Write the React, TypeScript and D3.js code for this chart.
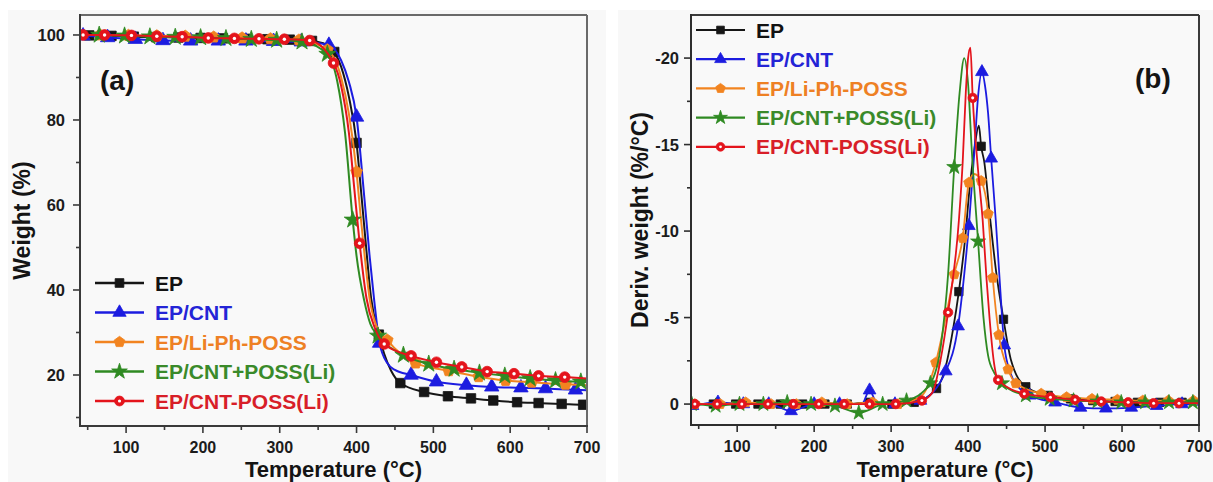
import React from 'react';
import * as d3 from 'd3';

type Pt = [number, number];

const SERIES = ['EP', 'EP/CNT', 'EP/Li-Ph-POSS', 'EP/CNT+POSS(Li)', 'EP/CNT-POSS(Li)'];
const COLORS = ['#161616', '#1c1ce0', '#f28420', '#2f8a22', '#e4141c'];
const TEXT_COLORS = ['#121212', '#2424d6', '#ee8024', '#3a8a2a', '#d81e28'];
const SHAPES = ['square', 'triangle', 'pentagon', 'star', 'circle'];

const X_TICKS = [100, 200, 300, 400, 500, 600, 700];
const X_MINOR = [50, 150, 250, 350, 450, 550, 650];
const TGA_Y_TICKS = [20, 40, 60, 80, 100];
const TGA_Y_MINOR = [10, 30, 50, 70, 90];
const DTG_Y_TICKS = [0, -5, -10, -15, -20];
const DTG_Y_MINOR = [-2.5, -7.5, -12.5, -17.5];

// ---------- TGA (weight %) : marker points + extra line points ----------
const tgaEP: Pt[] = [[52, 99.9], [81, 99.8], [110, 99.6], [139, 99.5], [168, 99.4], [197, 99.3], [226, 99.2], [255, 99.1], [284, 99.0], [313, 98.9], [342, 98.6], [371, 96.0], [400, 74.6], [429, 29.5], [457, 18.1], [488, 16.0], [519, 15.0], [549, 14.5], [578, 14.0], [609, 13.6], [637, 13.4], [667, 13.2], [695, 13.0]];
const tgaEPFine: Pt[] = [[40, 100], [360, 97.8], [380, 92.5], [390, 85.5], [406, 63], [412, 51], [419, 38], [436, 25], [445, 21], [700, 13.0]];

const tgaCNT: Pt[] = [[44, 99.8], [76, 99.4], [112, 99.0], [148, 98.7], [184, 98.6], [220, 98.6], [256, 98.6], [292, 98.5], [328, 98.4], [364, 97.6], [400, 80.7], [430, 27.5], [471, 20.0], [504, 18.4], [543, 17.6], [576, 17.2], [614, 17.0], [646, 16.8], [685, 16.5]];
const tgaCNTFine: Pt[] = [[40, 99.8], [380, 94], [390, 89], [410, 62], [417, 48], [423, 37.5], [440, 22.8], [450, 21.2], [700, 16.4]];

const tgaLiPOSS: Pt[] = [[66, 100], [103, 99.9], [140, 99.8], [177, 99.7], [214, 99.5], [251, 99.3], [288, 99.1], [325, 98.8], [362, 96.5], [400, 67.8], [440, 28.2], [477, 22.8], [520, 21.0], [559, 19.6], [594, 18.7], [628, 18.3], [672, 17.8]];
const tgaLiPOSSFine: Pt[] = [[40, 100], [380, 90], [390, 81.5], [405, 58], [410, 49], [417, 38], [425, 32], [700, 17.6]];

const tgaCNTplus: Pt[] = [[65, 100], [98, 99.8], [131, 99.6], [164, 99.5], [197, 99.4], [230, 99.2], [263, 99.0], [296, 98.8], [329, 98.4], [362, 95.5], [395, 56.5], [428, 29.2], [461, 24.7], [494, 22.6], [527, 21.4], [560, 20.5], [593, 19.8], [626, 19.2], [659, 18.7], [692, 18.4]];
const tgaCNTplusFine: Pt[] = [[40, 100], [375, 89], [385, 77], [400, 48], [410, 37.5], [418, 32], [700, 18.3]];

const tgaCNTminus: Pt[] = [[44, 100], [72, 100], [107, 99.9], [140, 99.7], [173, 99.6], [207, 99.3], [241, 99.2], [273, 99.1], [306, 99.0], [339, 98.7], [370, 93.4], [404, 51], [436, 27.3], [471, 24.5], [504, 23.0], [537, 21.9], [570, 20.8], [605, 20.3], [637, 19.8], [671, 19.5]];
const tgaCNTminusFine: Pt[] = [[40, 100], [380, 88], [390, 77], [397, 64], [413, 38], [424, 31], [700, 19.2]];

// ---------- DTG (deriv. weight %/°C) ----------
const dtgEP: Pt[] = [[40, 0], [69, 0], [98, 0], [127, 0], [156, 0], [185, 0], [214, 0], [243, 0], [272, -0.1], [301, 0], [330, -0.1], [359, -0.9], [388, -6.5], [417, -14.9], [446, -4.9], [475, -1.0], [504, -0.5], [533, -0.3], [562, -0.2], [591, -0.15], [620, -0.1], [649, -0.1], [678, -0.1]];
const dtgEPFine: Pt[] = [[370, -2.0], [380, -4.2], [396, -9.5], [402, -12.5], [408, -14.7], [414, -16.1], [421, -14.0], [428, -11.0], [436, -7.8], [456, -2.5], [700, -0.1]];

const dtgCNT: Pt[] = [[42, 0.1], [75, -0.1], [108, 0], [141, 0], [170, 0.4], [200, 0], [233, 0], [272, -0.8], [305, 0], [338, -0.2], [371, -1.9], [387, -4.5], [401, -10.3], [418, -19.2], [430, -14.2], [447, -3.4], [480, -0.5], [513, -0.1], [546, 0.2], [579, 0.25], [612, 0.2], [645, 0.1], [678, 0.0]];
const dtgCNTFine: Pt[] = [[262, 0], [282, 0], [395, -7.5], [408, -14.5], [413, -17.8], [422, -18.4], [426, -16.8], [436, -10.6], [442, -6.5], [455, -1.8], [465, -1.0], [700, 0.05]];

const dtgLiPOSS: Pt[] = [[45, 0], [78, 0], [111, -0.1], [144, 0], [177, 0], [210, -0.1], [243, 0], [276, -0.1], [309, 0], [358, -2.4], [382, -7.5], [393, -9.6], [401, -12.8], [417, -12.9], [426, -11.0], [432, -7.3], [440, -4.0], [452, -2.0], [462, -1.2], [495, -0.6], [528, -0.4], [561, -0.3], [594, -0.25], [627, -0.2], [660, -0.2], [693, -0.2]];
const dtgLiPOSSFine: Pt[] = [[40, 0], [340, -0.5], [370, -4.8], [408, -13.3], [700, -0.2]];

const dtgCNTplus: Pt[] = [[41, 0], [72, 0.1], [103, 0], [134, 0], [165, -0.1], [196, 0], [227, 0.1], [258, 0.5], [289, 0], [320, -0.2], [351, -1.2], [382, -13.7], [413, -9.4], [444, -1.2], [475, -0.5], [506, -0.3], [537, -0.2], [568, -0.15], [599, -0.1], [630, -0.1], [661, -0.1], [692, -0.1]];
const dtgCNTplusFine: Pt[] = [[40, 0], [365, -3.5], [374, -7.5], [389, -18.0], [395, -20.0], [400, -18.5], [405, -14.5], [420, -5.0], [426, -2.8], [434, -1.8], [700, -0.1]];

const dtgCNTminus: Pt[] = [[45, 0], [74, 0], [106, 0], [140, 0], [173, 0], [206, 0], [239, 0], [272, 0], [306, 0], [340, -0.2], [374, -5.3], [406, -17.7], [439, -1.4], [473, -0.6], [507, -0.4], [539, -0.25], [573, -0.15], [608, -0.1], [641, -0.05], [674, -0.05]];
const dtgCNTminusFine: Pt[] = [[40, 0], [354, -0.7], [364, -2.5], [388, -10.6], [393, -14.0], [397, -18.0], [400, -20.0], [403, -20.6], [413, -13.5], [419, -10.6], [424, -7.2], [428, -4.9], [433, -2.6], [700, -0.05]];

const TGA = [
  { main: tgaEP, fine: tgaEPFine },
  { main: tgaCNT, fine: tgaCNTFine },
  { main: tgaLiPOSS, fine: tgaLiPOSSFine },
  { main: tgaCNTplus, fine: tgaCNTplusFine },
  { main: tgaCNTminus, fine: tgaCNTminusFine },
];
const DTG = [
  { main: dtgEP, fine: dtgEPFine },
  { main: dtgCNT, fine: dtgCNTFine },
  { main: dtgLiPOSS, fine: dtgLiPOSSFine },
  { main: dtgCNTplus, fine: dtgCNTplusFine },
  { main: dtgCNTminus, fine: dtgCNTminusFine },
];

const FONT = '"Liberation Sans", Arial, Helvetica, sans-serif';

function markerPath(shape: string, size: number): string {
  if (shape === 'pentagon') {
    const r = Math.sqrt(size / 2.38);
    const pts = d3.range(5).map((i) => {
      const a = -Math.PI / 2 + (i * 2 * Math.PI) / 5;
      return [r * Math.cos(a), r * Math.sin(a)];
    });
    return 'M' + pts.map((p) => p.join(',')).join('L') + 'Z';
  }
  const types: Record<string, d3.SymbolType> = {
    square: d3.symbolSquare,
    triangle: d3.symbolTriangle,
    star: d3.symbolStar,
    circle: d3.symbolCircle,
  };
  return d3.symbol(types[shape], size)() as string;
}

function Marker({ shape, color, x, y, size }: { shape: string; color: string; x: number; y: number; size: number }) {
  return (
    <g transform={`translate(${x},${y})`}>
      <path d={markerPath(shape, size)} fill={color} stroke={color} strokeWidth={0.8} />
      {shape === 'circle' && <circle r={Math.sqrt(size / Math.PI) * 0.32} fill="#fff" />}
    </g>
  );
}

interface PanelProps {
  data: { main: Pt[]; fine: Pt[] }[];
  xRange: [number, number];
  yRange: [number, number];
  yDomain: [number, number];
  yTicks: number[];
  yMinor: number[];
  yTitle: string;
  yTitleX: number;
  yLabelX: number;
  label: string;
  labelX: number;
  labelY: number;
  legendX: number;
  legendY: number;
  legendStep: number;
  markerSize: number;
  lineWidth: number;
  frameLeft: string;
  frameTop: string;
}

function Panel(p: PanelProps) {
  const x = d3.scaleLinear().domain([40, 700]).range(p.xRange);
  const y = d3.scaleLinear().domain(p.yDomain).range(p.yRange);
  const [x0, x1] = p.xRange;
  const [y1, y0] = p.yRange; // y1 bottom, y0 top
  const line = d3
    .line<Pt>()
    .x((d) => x(d[0]))
    .y((d) => y(d[1]))
    .curve(d3.curveMonotoneX);
  const fmt = (v: number) => (v === 0 ? '0' : String(v));
  return (
    <g fontFamily={FONT} fontWeight="bold">
      <rect x={x0} y={y0} width={x1 - x0} height={y1 - y0} fill="#f9f9f9" />
      <defs>
        <clipPath id={`clip-${p.label}`}>
          <rect x={x0} y={y0 - 2} width={x1 - x0 + 1} height={y1 - y0 + 2} />
        </clipPath>
      </defs>
      <g clipPath={`url(#clip-${p.label})`}>
        {p.data.map((s, i) => {
          const all = [...s.main, ...s.fine].sort((a, b) => a[0] - b[0]);
          return (
            <g key={i}>
              <path d={line(all) as string} fill="none" stroke={COLORS[i]} strokeWidth={p.lineWidth} />
              {s.main.map((d, j) => (
                <Marker key={j} shape={SHAPES[i]} color={COLORS[i]} x={x(d[0])} y={y(d[1])} size={p.markerSize} />
              ))}
            </g>
          );
        })}
      </g>
      {/* frame */}
      <line x1={x0} y1={y0} x2={x1} y2={y0} stroke={p.frameTop} strokeWidth={2} />
      <line x1={x1} y1={y0} x2={x1} y2={y1} stroke={p.frameTop} strokeWidth={2} />
      <line x1={x0} y1={y0 - 1} x2={x0} y2={y1 + 1} stroke={p.frameLeft} strokeWidth={2} />
      <line x1={x0 - 1} y1={y1} x2={x1 + 1} y2={y1} stroke={p.frameLeft} strokeWidth={2} />
      {/* x ticks */}
      {X_TICKS.map((t) => (
        <g key={t}>
          <line x1={x(t)} x2={x(t)} y1={y1} y2={y1 + 7} stroke={p.frameLeft} strokeWidth={1.6} />
          <text x={x(t)} y={y1 + 27} textAnchor="middle" fontSize={16} fill="#1c1c1c">
            {t}
          </text>
        </g>
      ))}
      {X_MINOR.map((t) => (
        <line key={t} x1={x(t)} x2={x(t)} y1={y1} y2={y1 + 4} stroke={p.frameLeft} strokeWidth={1.6} />
      ))}
      {/* y ticks */}
      {p.yTicks.map((t) => (
        <g key={t}>
          <line x1={x0 - 7} x2={x0} y1={y(t)} y2={y(t)} stroke={p.frameLeft} strokeWidth={1.6} />
          <text x={p.yLabelX} y={y(t) + 6} textAnchor="end" fontSize={16.5} fill="#1c1c1c">
            {fmt(t)}
          </text>
        </g>
      ))}
      {p.yMinor.map((t) => (
        <line key={t} x1={x0 - 4} x2={x0} y1={y(t)} y2={y(t)} stroke={p.frameLeft} strokeWidth={1.6} />
      ))}
      {/* titles */}
      <text x={(x0 + x1) / 2} y={477} textAnchor="middle" fontSize={22} fill="#141414">
        Temperature (°C)
      </text>
      <text
        transform={`translate(${p.yTitleX},${(y0 + y1) / 2}) rotate(-90)`}
        textAnchor="middle"
        fontSize={23}
        fill="#141414"
      >
        {p.yTitle}
      </text>
      <text x={p.labelX} y={p.labelY} fontSize={28} fill="#141414">
        ({p.label})
      </text>
      {/* legend */}
      {SERIES.map((name, i) => {
        const ly = p.legendY + i * p.legendStep;
        return (
          <g key={name}>
            <line x1={p.legendX} x2={p.legendX + 49} y1={ly} y2={ly} stroke={COLORS[i]} strokeWidth={p.lineWidth + 0.4} />
            <Marker shape={SHAPES[i]} color={COLORS[i]} x={p.legendX + 24.5} y={ly} size={p.markerSize * 0.85} />
            <text x={p.legendX + 60} y={ly + 7.5} fontSize={21} fill={TEXT_COLORS[i]}>
              {name}
            </text>
          </g>
        );
      })}
    </g>
  );
}

export default function App() {
  return (
    <svg width={1213} height={482} style={{ position: 'absolute', left: 0, top: 0, background: '#fff' }}>
      <rect x={8} y={10} width={598} height={472} fill="#f8f8f8" />
      <rect x={618} y={10} width={595} height={472} fill="#f8f8f8" />
      <Panel
        data={TGA}
        xRange={[80, 587]}
        yRange={[426, 15]}
        yDomain={[8, 104.7]}
        yTicks={TGA_Y_TICKS}
        yMinor={TGA_Y_MINOR}
        yTitle="Weight (%)"
        yTitleX={30}
        yLabelX={65}
        label="a"
        labelX={100}
        labelY={90}
        legendX={95}
        legendY={283}
        legendStep={29.5}
        markerSize={90}
        lineWidth={2}
        frameLeft="#3a3a3a"
        frameTop="#6a6a6a"
      />
      <Panel
        data={DTG}
        xRange={[691, 1199]}
        yRange={[425, 15]}
        yDomain={[1.21, -22.49]}
        yTicks={DTG_Y_TICKS}
        yMinor={DTG_Y_MINOR}
        yTitle="Deriv. weight (%/°C)"
        yTitleX={648}
        yLabelX={679}
        label="b"
        labelX={1135}
        labelY={88}
        legendX={696}
        legendY={30}
        legendStep={29.2}
        markerSize={70}
        lineWidth={1.8}
        frameLeft="#2e2e2e"
        frameTop="#3a3a3a"
      />
    </svg>
  );
}
